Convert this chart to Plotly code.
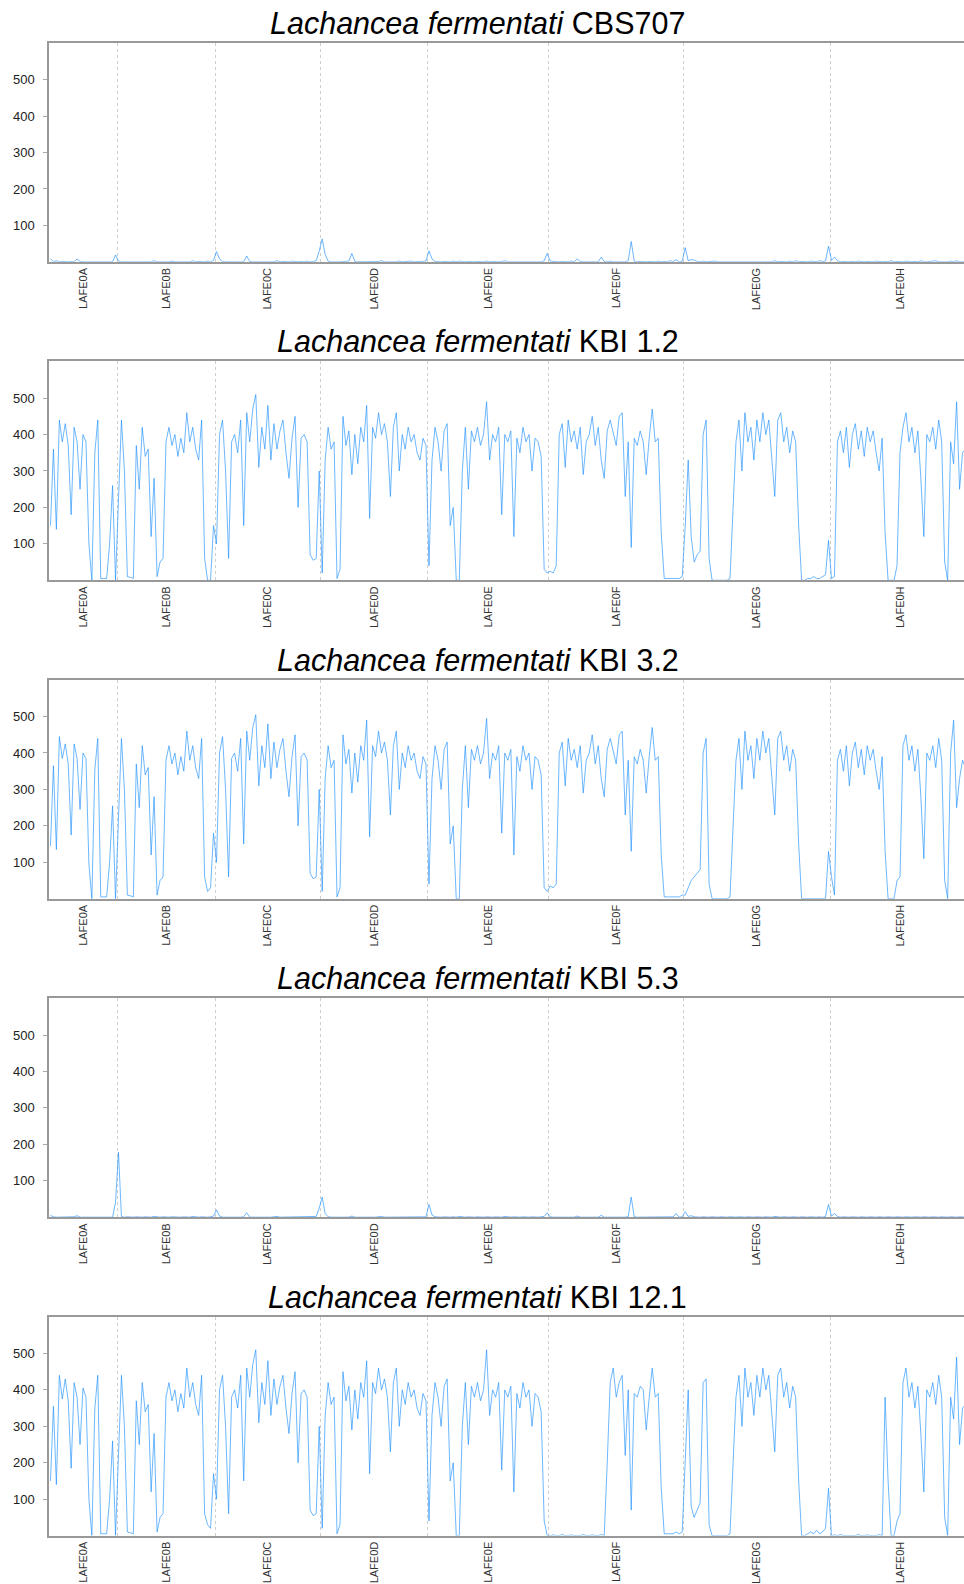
import plotly.graph_objects as go
from plotly.subplots import make_subplots

# chromosomes of the reference genome, lengths in kb
chrom_names = ["LAFE0A", "LAFE0B", "LAFE0C", "LAFE0D", "LAFE0E", "LAFE0F", "LAFE0G", "LAFE0H"]
chrom_len_kb = [748, 1078, 1163, 1174, 1334, 1485, 1609, 1540]

strain_labels = ["CBS707", "KBI 1.2", "KBI 3.2", "KBI 5.3", "KBI 12.1"]

# read depth per window, one list per chromosome (A..H)
cbs707 = [
    [8, 1, 3, 0, 1, 0, 0, 1, 0, 8, 1, 0, 0, 1, 0, 0, 0, 1, 0, 0, 1, 0, 19],
    [2, 0, 0, 1, 0, 2, 0, 0, 1, 0, 0, 0, 3, 0, 0, 1, 0, 0, 2, 0, 0, 1, 0, 0, 0, 3, 0, 1, 0, 0, 2, 0, 4],
    [28, 8, 1, 0, 0, 1, 0, 0, 2, 0, 16, 1, 0, 0, 1, 0, 0, 2, 0, 0, 3, 0, 1, 0, 0, 2, 0, 0, 1, 0, 2, 0, 1, 3, 30],
    [63, 20, 2, 0, 1, 0, 0, 1, 0, 2, 23, 1, 0, 0, 1, 0, 2, 0, 0, 1, 3, 0, 0, 1, 0, 0, 2, 0, 1, 0, 2, 0, 0, 1, 0, 2],
    [30, 8, 1, 0, 0, 1, 0, 0, 2, 0, 2, 0, 0, 1, 0, 0, 1, 0, 0, 2, 0, 1, 0, 0, 1, 3, 0, 0, 1, 0, 0, 2, 0, 1, 0, 0, 1, 0, 3, 23],
    [2, 1, 0, 0, 1, 0, 0, 2, 0, 8, 1, 0, 0, 1, 0, 2, 0, 13, 1, 0, 2, 0, 0, 1, 0, 0, 3, 56, 2, 0, 1, 0, 0, 1, 0, 0, 2, 0, 1, 0, 3, 1, 6, 0, 1],
    [39, 3, 6, 5, 1, 0, 2, 0, 1, 0, 2, 0, 0, 1, 0, 0, 1, 0, 0, 2, 0, 0, 1, 0, 0, 1, 0, 2, 0, 0, 3, 0, 1, 0, 0, 2, 0, 3, 0, 1, 0, 0, 2, 1, 0, 3, 1, 2, 43],
    [4, 13, 3, 0, 1, 0, 0, 1, 0, 2, 0, 0, 1, 0, 0, 2, 0, 0, 1, 0, 3, 0, 1, 0, 0, 2, 0, 0, 1, 0, 3, 0, 0, 1, 0, 3, 0, 1, 0, 0, 2, 0, 3, 0, 1, 0, 0],
]

kbi_1_2 = [
    [150, 360, 140, 440, 380, 430, 370, 180, 420, 380, 250, 400, 380, 100, 0, 350, 440, 5, 5, 5, 100, 260, 0],
    [200, 440, 300, 10, 8, 5, 370, 250, 420, 340, 360, 120, 280, 10, 50, 60, 380, 420, 370, 400, 340, 390, 350, 460, 380, 420, 360, 330, 440, 60, 0, 0, 150],
    [100, 400, 440, 300, 60, 380, 400, 350, 440, 150, 460, 380, 470, 510, 310, 420, 360, 480, 330, 430, 360, 410, 440, 350, 280, 390, 450, 200, 390, 400, 380, 70, 55, 60, 300],
    [20, 330, 420, 360, 380, 5, 30, 450, 370, 410, 290, 400, 320, 420, 380, 480, 170, 420, 390, 460, 400, 430, 380, 230, 420, 460, 300, 400, 360, 420, 380, 400, 350, 330, 390, 370],
    [40, 330, 420, 380, 300, 410, 430, 150, 200, 0, 0, 300, 420, 250, 410, 380, 420, 370, 400, 490, 330, 400, 380, 420, 180, 400, 380, 410, 120, 390, 350, 420, 380, 400, 300, 390, 380, 340, 30, 20],
    [25, 20, 40, 400, 430, 310, 440, 380, 410, 360, 420, 290, 380, 400, 450, 370, 420, 330, 280, 410, 440, 400, 370, 450, 460, 230, 380, 90, 390, 370, 410, 380, 290, 390, 470, 380, 390, 130, 5, 5, 5, 5, 5, 5, 10],
    [150, 330, 120, 50, 70, 80, 400, 440, 60, 0, 0, 0, 0, 0, 0, 5, 200, 380, 440, 300, 460, 380, 420, 330, 440, 380, 460, 400, 440, 320, 230, 440, 460, 380, 420, 350, 410, 380, 150, 0, 0, 5, 5, 10, 5, 5, 10, 15, 110],
    [5, 10, 380, 410, 350, 420, 310, 400, 430, 360, 410, 340, 420, 380, 410, 350, 300, 390, 130, 0, 0, 0, 40, 350, 420, 460, 380, 420, 350, 410, 280, 120, 400, 380, 420, 360, 440, 380, 50, 0, 380, 320, 490, 250, 350, 360, 340],
]

kbi_3_2 = [
    [145, 365, 135, 445, 385, 425, 370, 175, 425, 385, 245, 400, 385, 95, 0, 355, 440, 5, 5, 5, 100, 255, 0],
    [200, 440, 300, 10, 8, 5, 370, 250, 420, 340, 360, 120, 280, 10, 50, 60, 380, 420, 370, 400, 340, 390, 350, 460, 380, 420, 360, 330, 440, 60, 20, 30, 180],
    [100, 400, 445, 300, 60, 385, 400, 350, 440, 150, 460, 380, 470, 505, 310, 420, 360, 480, 330, 430, 360, 410, 440, 350, 280, 390, 450, 200, 390, 400, 380, 70, 55, 60, 300],
    [20, 330, 420, 360, 380, 5, 30, 450, 370, 410, 290, 400, 320, 420, 380, 490, 170, 420, 390, 460, 400, 430, 380, 230, 420, 460, 300, 400, 360, 420, 380, 400, 350, 330, 390, 370],
    [40, 330, 420, 380, 300, 410, 430, 150, 200, 0, 0, 300, 420, 250, 410, 380, 420, 370, 400, 495, 330, 400, 380, 420, 180, 400, 380, 410, 120, 390, 350, 420, 380, 400, 300, 390, 380, 340, 30, 20],
    [35, 30, 40, 400, 430, 310, 440, 380, 410, 360, 420, 290, 380, 400, 450, 370, 420, 330, 280, 410, 440, 400, 370, 450, 460, 230, 380, 130, 390, 370, 410, 380, 290, 390, 470, 380, 390, 120, 5, 5, 5, 5, 5, 5, 10],
    [10, 30, 50, 60, 70, 80, 400, 440, 40, 0, 0, 0, 0, 0, 0, 5, 200, 380, 440, 300, 460, 380, 420, 330, 440, 380, 460, 400, 440, 320, 230, 440, 460, 380, 420, 350, 410, 380, 150, 0, 0, 0, 0, 0, 0, 0, 0, 0, 130],
    [60, 10, 380, 410, 350, 420, 310, 400, 430, 360, 410, 340, 420, 380, 410, 350, 300, 390, 130, 0, 0, 0, 50, 60, 420, 450, 380, 420, 350, 410, 280, 110, 400, 380, 420, 360, 440, 380, 50, 0, 400, 490, 250, 330, 380, 360, 340],
]

kbi_5_3 = [
    [5, 1, 0, 0, 1, 0, 0, 0, 1, 4, 0, 0, 1, 0, 0, 0, 1, 0, 0, 0, 1, 0, 40],
    [178, 2, 0, 1, 0, 0, 1, 0, 0, 1, 0, 0, 2, 0, 0, 1, 0, 0, 1, 0, 0, 0, 1, 0, 0, 2, 0, 0, 1, 0, 0, 1, 3],
    [20, 3, 0, 1, 0, 0, 1, 0, 0, 1, 12, 0, 0, 1, 0, 0, 1, 0, 0, 1, 2, 0, 0, 1, 0, 0, 1, 0, 0, 1, 0, 0, 1, 2, 25],
    [55, 10, 1, 0, 0, 1, 0, 0, 1, 0, 3, 0, 0, 1, 0, 0, 1, 0, 0, 1, 2, 0, 0, 1, 0, 0, 1, 0, 0, 1, 2, 0, 0, 1, 0, 1],
    [35, 6, 1, 0, 0, 1, 0, 0, 1, 0, 2, 0, 0, 1, 0, 0, 1, 0, 0, 1, 0, 0, 1, 0, 0, 2, 0, 0, 1, 0, 0, 1, 0, 0, 1, 0, 0, 1, 2, 12],
    [1, 0, 0, 1, 0, 0, 1, 0, 0, 3, 0, 0, 1, 0, 0, 1, 0, 5, 0, 0, 1, 0, 0, 1, 0, 0, 2, 55, 1, 0, 0, 1, 0, 0, 1, 0, 0, 1, 0, 0, 2, 1, 10, 0, 1],
    [15, 2, 4, 1, 0, 0, 1, 0, 0, 1, 0, 0, 1, 0, 0, 1, 0, 0, 1, 0, 0, 1, 0, 0, 1, 0, 0, 1, 0, 0, 2, 0, 0, 1, 0, 0, 1, 0, 0, 1, 0, 0, 1, 0, 0, 1, 0, 2, 35],
    [3, 10, 2, 0, 1, 0, 0, 1, 0, 0, 1, 0, 0, 1, 0, 0, 1, 0, 0, 1, 0, 0, 1, 0, 0, 1, 0, 0, 1, 0, 0, 1, 0, 0, 1, 0, 0, 1, 0, 0, 1, 0, 0, 1, 0, 0, 1],
]

kbi_12_1 = [
    [150, 355, 140, 440, 375, 430, 370, 185, 420, 380, 250, 405, 380, 100, 0, 350, 440, 5, 5, 5, 100, 260, 0],
    [200, 440, 300, 10, 8, 5, 370, 250, 420, 340, 360, 120, 280, 10, 50, 60, 380, 420, 370, 400, 340, 390, 350, 460, 380, 420, 360, 330, 440, 60, 30, 20, 170],
    [100, 400, 440, 300, 60, 380, 400, 350, 440, 150, 460, 380, 470, 510, 310, 420, 360, 480, 330, 430, 360, 410, 440, 350, 280, 390, 450, 200, 390, 400, 380, 70, 55, 60, 300],
    [20, 330, 420, 360, 380, 5, 30, 450, 370, 410, 290, 400, 320, 420, 380, 480, 170, 420, 390, 460, 400, 430, 380, 230, 420, 460, 300, 400, 360, 420, 380, 400, 350, 330, 390, 370],
    [40, 330, 420, 380, 300, 410, 430, 150, 200, 0, 0, 300, 420, 250, 410, 380, 420, 370, 400, 510, 330, 400, 380, 420, 180, 400, 380, 410, 120, 390, 350, 420, 380, 400, 300, 390, 380, 340, 40, 0],
    [0, 2, 0, 0, 3, 0, 0, 2, 0, 0, 0, 3, 0, 0, 2, 0, 0, 3, 0, 200, 420, 460, 380, 420, 440, 220, 400, 70, 390, 380, 410, 400, 290, 380, 460, 380, 390, 130, 5, 5, 5, 5, 10, 5, 10],
    [200, 400, 80, 50, 70, 90, 420, 430, 30, 0, 0, 0, 0, 0, 0, 5, 200, 380, 440, 300, 460, 380, 420, 330, 440, 380, 460, 400, 440, 320, 230, 440, 460, 380, 420, 350, 410, 380, 150, 0, 0, 5, 10, 5, 15, 5, 10, 20, 130],
    [0, 2, 0, 3, 0, 0, 2, 0, 0, 3, 0, 0, 2, 0, 0, 0, 3, 0, 380, 150, 0, 0, 40, 60, 420, 460, 380, 420, 350, 410, 280, 120, 400, 380, 420, 360, 440, 380, 50, 0, 380, 320, 490, 250, 350, 360, 340],
]

samples = [cbs707, kbi_1_2, kbi_3_2, kbi_5_3, kbi_12_1]

# chromosome offsets along the concatenated genome
offsets = []
pos = 0
for L in chrom_len_kb:
    offsets.append(pos)
    pos += L
boundaries = offsets[1:]
mids = [o + L / 2 for o, L in zip(offsets, chrom_len_kb)]

W, H = 964, 1584
left = 49
panel_step = 319.25
font = "Liberation Sans, Arial, sans-serif"
fig = make_subplots(rows=5, cols=1)

for k, (label, sample) in enumerate(zip(strain_labels, samples)):
    xs, ys = [], []
    for o, L, vals in zip(offsets, chrom_len_kb, sample):
        n = len(vals)
        for i, v in enumerate(vals):
            xs.append(o + (i + 0.5) * L / n)
            ys.append(v)
    fig.add_trace(
        go.Scatter(
            x=xs, y=ys, mode="lines",
            line=dict(color="rgba(30,144,255,0.65)", width=1),
            hoverinfo="skip",
        ),
        row=k + 1, col=1,
    )

    top = 43 + panel_step * k
    bottom = 262.5 + panel_step * k
    n = "" if k == 0 else str(k + 1)
    fig.layout["yaxis" + n].update(
        domain=[1 - bottom / H, 1 - top / H],
        range=[0, 601],
        tickvals=[100, 200, 300, 400, 500],
        ticks="outside", ticklen=4, tickcolor="#aaa",
        ticklabelstandoff=6,
        showgrid=False, zeroline=False,
        showline=True, linecolor="#999", linewidth=1.5,
        tickfont=dict(family=font, size=13, color="#222"),
    )
    fig.layout["xaxis" + n].update(
        range=[0, (W - left) * 11],
        tickvals=mids, ticktext=chrom_names, tickangle=-90,
        ticks="", showgrid=False, zeroline=False,
        showline=True, mirror=True, linecolor="#999", linewidth=1.5,
        tickfont=dict(family=font, size=11, color="#333"),
        minor=dict(tickvals=boundaries, showgrid=True, gridcolor="#cfcfcf",
                   griddash="dot", gridwidth=1, ticks=""),
    )

    # paper x is relative to the plot area (left margin excluded)
    fig.add_annotation(
        x=(477.5 - left) / (W - left), y=1 - (23 + panel_step * k) / H,
        xref="paper", yref="paper", xanchor="center", yanchor="middle",
        text="<i>Lachancea fermentati</i> " + label, showarrow=False,
        font=dict(family=font, size=30.5, color="#000"),
    )

fig.update_layout(
    width=W, height=H,
    margin=dict(l=left, r=0, t=0, b=0),
    paper_bgcolor="white", plot_bgcolor="white",
    showlegend=False,
)

fig.write_html(
    "out.html",
    config={"displayModeBar": False},
    post_script="document.body.style.margin='0';",
)
